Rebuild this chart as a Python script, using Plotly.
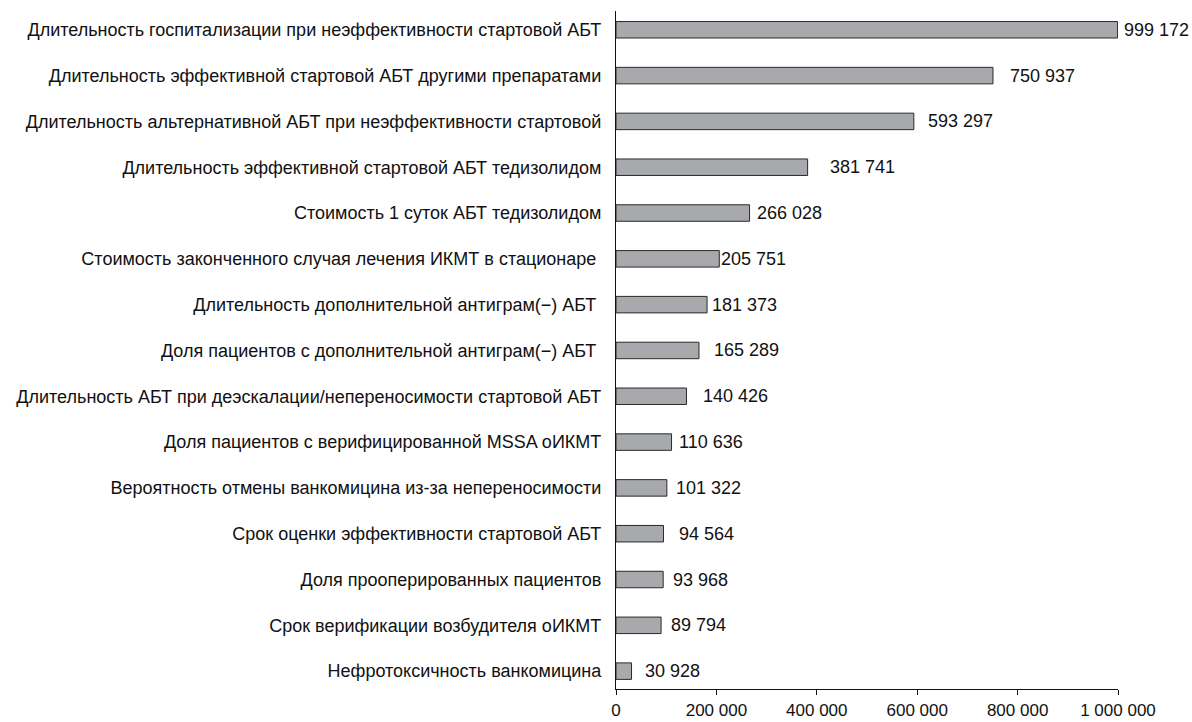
import plotly.graph_objects as go

categories = [
    "Длительность госпитализации при неэффективности стартовой АБТ",
    "Длительность эффективной стартовой АБТ другими препаратами",
    "Длительность альтернативной АБТ при неэффективности стартовой",
    "Длительность эффективной стартовой АБТ тедизолидом",
    "Стоимость 1 суток АБТ тедизолидом",
    "Стоимость законченного случая лечения ИКМТ в стационаре ",
    "Длительность дополнительной антиграм(−) АБТ ",
    "Доля пациентов с дополнительной антиграм(−) АБТ ",
    "Длительность АБТ при деэскалации/непереносимости стартовой АБТ",
    "Доля пациентов с верифицированной MSSA оИКМТ",
    "Вероятность отмены ванкомицина из-за непереносимости",
    "Срок оценки эффективности стартовой АБТ",
    "Доля прооперированных пациентов",
    "Срок верификации возбудителя оИКМТ",
    "Нефротоксичность ванкомицина",
]
values = [999172, 750937, 593297, 381741, 266028, 205751, 181373, 165289,
          140426, 110636, 101322, 94564, 93968, 89794, 30928]
x_ticks = [0, 200000, 400000, 600000, 800000, 1000000]

# style: pixel gap between bar end and value label
label_gaps = [4, 15, 12, 20, 5, 0, 3, 13, 15, 5, 7, 14, 8, 8, 11]

FONT = "Liberation Sans, Arial, sans-serif"
FS = 18

fig = go.Figure()
fig.add_trace(go.Bar(
    x=values, y=categories, orientation="h",
    width=0.36,
    marker=dict(color="#a8a9ac", line=dict(color="#2a2a2a", width=1)),
    hoverinfo="skip",
))

for cat, v, g in zip(categories, values, label_gaps):
    fig.add_annotation(
        x=v, y=cat, text=f"{v:,}".replace(",", " "),
        showarrow=False, xanchor="left", yanchor="middle",
        xshift=g, font=dict(family=FONT, size=FS, color="#111"),
    )

fig.update_layout(
    width=1192, height=722,
    margin=dict(l=616, r=74, t=11, b=33, pad=0),
    paper_bgcolor="white", plot_bgcolor="white",
    showlegend=False,
    separators=", ",
    font=dict(family=FONT, size=FS, color="#111"),
)
fig.update_xaxes(
    range=[0, 1000000], tickvals=x_ticks, tickformat=",d",
    showgrid=False, zeroline=False, automargin=False,
    showline=True, linecolor="#111", linewidth=1.2,
    ticks="outside", ticklen=5, tickcolor="#111", tickwidth=1,
    tickfont=dict(family=FONT, size=17, color="#111"),
)
fig.update_yaxes(
    type="category", range=[14.39, -0.41],
    showgrid=False, zeroline=False, automargin=False,
    showline=True, linecolor="#111", linewidth=1.2,
    ticks="", ticklabelstandoff=10,
    tickfont=dict(family=FONT, size=FS, color="#111"),
)

fig.write_html("out.html")
